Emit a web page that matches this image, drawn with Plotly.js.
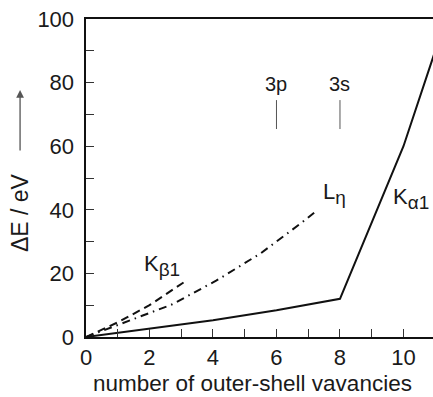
<!DOCTYPE html>
<html><head><meta charset="utf-8">
<script src="https://cdn.plot.ly/plotly-3.0.1.min.js"></script>
<style>html,body{margin:0;padding:0;background:#fff;}#chart{width:433px;height:397px;}</style>
</head><body><div id="chart"></div>
<script>
// Data
const kaX = [0, 2, 4, 6, 8, 10, 11];
const kaY = [0, 2.6, 5.3, 8.4, 12, 60, 90];
const lnX = [0, 1, 2, 2.7, 4.1, 5.5, 6.8, 7.3];
const lnY = [0, 3.8, 7.5, 10.2, 17.7, 26.3, 36, 40];
const kbX = [0, 1, 2, 3.2];
const kbY = [0, 4.6, 10, 18];
const yTickVals = [0, 20, 40, 60, 80, 100];
const yTickText = ['0', '20', '40', '60', '80', '100'];
const shellX = [6, 8];
const shellLabels = ['3p', '3s'];
const shellMarkLow = 65.4, shellMarkHigh = 74.5, shellLabelY = 79.5;
const curveLabels = [
  {main: 'K', sub: 'β1', x: 1.75, y: 22.5},
  {main: 'L', sub: 'η', x: 7.4, y: 45},
  {main: 'K', sub: 'α1', x: 9.62, y: 43.5}
];
const xTitle = 'number of outer-shell vavancies';
const yTitle = 'ΔE / eV';

const FONT = 'Liberation Sans, Arial, sans-serif';
const TXT = '#1a1a1a';

const traces = [
  {x: kaX, y: kaY, mode: 'lines', line: {color: '#111', width: 2}, hoverinfo: 'skip'},
  {x: lnX, y: lnY, mode: 'lines', line: {color: '#111', width: 2, dash: '8px,5px,1.5px,5px'}, hoverinfo: 'skip'},
  {x: kbX, y: kbY, mode: 'lines', line: {color: '#111', width: 2, dash: '8px,5px'}, hoverinfo: 'skip'}
];
shellX.forEach(function (sx) {
  traces.push({x: [sx, sx], y: [shellMarkLow, shellMarkHigh], mode: 'lines',
    line: {color: '#555', width: 1}, hoverinfo: 'skip'});
});

const annotations = [];
shellX.forEach(function (sx, i) {
  annotations.push({x: sx, y: shellLabelY, xref: 'x', yref: 'y', text: shellLabels[i],
    showarrow: false, font: {family: FONT, size: 20, color: TXT}, xanchor: 'center', yanchor: 'middle'});
});
curveLabels.forEach(function (c) {
  annotations.push({x: c.x, y: c.y, xref: 'x', yref: 'y',
    text: c.main + '<sub><span style="font-size:19px">' + c.sub + '</span></sub>', showarrow: false,
    font: {family: FONT, size: 22, color: TXT}, xanchor: 'left', yanchor: 'middle'});
});
// x-axis title
annotations.push({x: 0.48, y: -0.147, xref: 'paper', yref: 'paper', text: xTitle,
  showarrow: false, font: {family: FONT, size: 22.5, color: TXT}, xanchor: 'center', yanchor: 'middle'});
// y-axis title and arrow
annotations.push({x: -0.19, y: 0.39, xref: 'paper', yref: 'paper', text: yTitle, textangle: -90,
  showarrow: false, font: {family: FONT, size: 23, color: TXT}, xanchor: 'center', yanchor: 'middle'});
annotations.push({x: -0.19, y: 0.777, xref: 'paper', yref: 'paper', text: '', showarrow: true,
  ax: 0, ay: 62, arrowhead: 2, arrowsize: 1.2, arrowwidth: 1.3, arrowcolor: '#555'});

const layout = {
  width: 433, height: 397,
  margin: {l: 86, r: 0, t: 19, b: 60},
  paper_bgcolor: '#fff', plot_bgcolor: '#fff',
  showlegend: false,
  font: {family: FONT, color: TXT, size: 22},
  xaxis: {
    range: [0, 10.93], dtick: 2, tick0: 0, ticks: 'inside', ticklen: 8, tickwidth: 1, tickcolor: '#333',
    minor: {dtick: 1, ticks: 'inside', ticklen: 8, tickwidth: 1, tickcolor: '#333'},
    showline: true, linewidth: 2, linecolor: '#111', mirror: true, showgrid: false, zeroline: false,
    tickfont: {family: FONT, size: 22, color: TXT}
  },
  yaxis: {
    range: [0, 100], tickmode: 'array', tickvals: yTickVals,
    ticktext: yTickText.map(function (t) { return t + '\u2005'; }),
    ticks: 'inside', ticklen: 8, tickwidth: 1, tickcolor: '#333',
    minor: {dtick: 10, ticks: 'inside', ticklen: 8, tickwidth: 1, tickcolor: '#333'},
    showline: true, linewidth: 2, linecolor: '#111', showgrid: false, zeroline: false,
    tickfont: {family: FONT, size: 22, color: TXT}
  },
  annotations: annotations
};

Plotly.newPlot('chart', traces, layout, {staticPlot: true, displayModeBar: false});
</script></body></html>
